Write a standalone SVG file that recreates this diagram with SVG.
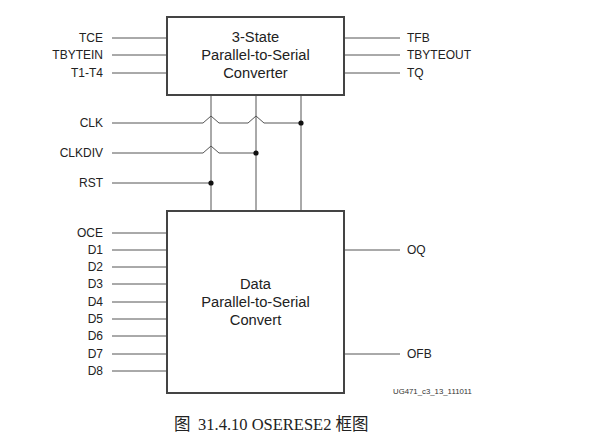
<svg xmlns="http://www.w3.org/2000/svg" width="589" height="439" viewBox="0 0 589 439">
<style>
.box{fill:#fff;stroke:#444;stroke-width:2}
.w{fill:none;stroke:#555;stroke-width:1}
.lbl{font-family:"Liberation Sans",Arial,sans-serif;font-size:12px;fill:#222}
.r{text-anchor:end}
.c{font-family:"Liberation Sans",Arial,sans-serif;font-size:14.7px;fill:#222;text-anchor:middle}
.cap{font-family:"Liberation Serif","Noto Sans CJK SC",serif;font-size:16.5px;fill:#222}
.dot{fill:#111}
</style>
<rect width="589" height="439" fill="#fff"/>
<g id="connectors">
<path class="w" d="M112 38H167M112 55H167M112 73H167"/>
<path class="w" d="M344 38H400M344 55H400M344 73H400"/>
<path class="w" d="M211 95V211M256 95V211M301 95V211"/>
<path class="w" d="M112 123H203L211 116L219 123H248L256 116L264 123H301"/>
<path class="w" d="M112 153H203L211 146L219 153H256"/>
<path class="w" d="M112 183H211"/>
<path class="w" d="M112 233H167M112 250H167M112 267H167M112 284H167M112 302H167M112 319H167M112 336H167M112 354H167M112 371H167"/>
<path class="w" d="M344 250H400M344 354H400"/>
<circle class="dot" cx="301" cy="123" r="2.6"/>
<circle class="dot" cx="256" cy="153" r="2.6"/>
<circle class="dot" cx="211" cy="183" r="2.6"/>
</g>
<g id="tristate">
<rect class="box" x="167" y="17" width="177" height="78"/>
<text class="c" x="255.5" y="42">3-State</text>
<text class="c" x="255.5" y="60">Parallel-to-Serial</text>
<text class="c" x="255.5" y="78">Converter</text>
</g>
<g id="data">
<rect class="box" x="167" y="211" width="177" height="182"/>
<text class="c" x="255.5" y="289">Data</text>
<text class="c" x="255.5" y="307">Parallel-to-Serial</text>
<text class="c" x="255.5" y="325">Convert</text>
</g>
<g id="labels">
<text class="lbl r" x="103" y="42">TCE</text>
<text class="lbl r" x="103" y="59">TBYTEIN</text>
<text class="lbl r" x="103" y="77">T1-T4</text>
<text class="lbl" x="407" y="42">TFB</text>
<text class="lbl" x="407" y="59">TBYTEOUT</text>
<text class="lbl" x="407" y="77">TQ</text>
<text class="lbl r" x="103" y="127">CLK</text>
<text class="lbl r" x="103" y="157">CLKDIV</text>
<text class="lbl r" x="103" y="187">RST</text>
<text class="lbl r" x="103" y="237">OCE</text>
<text class="lbl r" x="103" y="254">D1</text>
<text class="lbl r" x="103" y="271">D2</text>
<text class="lbl r" x="103" y="288">D3</text>
<text class="lbl r" x="103" y="306">D4</text>
<text class="lbl r" x="103" y="323">D5</text>
<text class="lbl r" x="103" y="340">D6</text>
<text class="lbl r" x="103" y="358">D7</text>
<text class="lbl r" x="103" y="375">D8</text>
<text class="lbl" x="407" y="254">OQ</text>
<text class="lbl" x="407" y="358">OFB</text>
<text x="393" y="394" style="font-family:'Liberation Sans',Arial,sans-serif;font-size:7.8px;fill:#333">UG471_c3_13_111011</text>
<text class="cap" x="174" y="430">图</text>
<text class="cap" x="198" y="430">31.4.10 OSERESE2 框图</text>
</g>
</svg>
